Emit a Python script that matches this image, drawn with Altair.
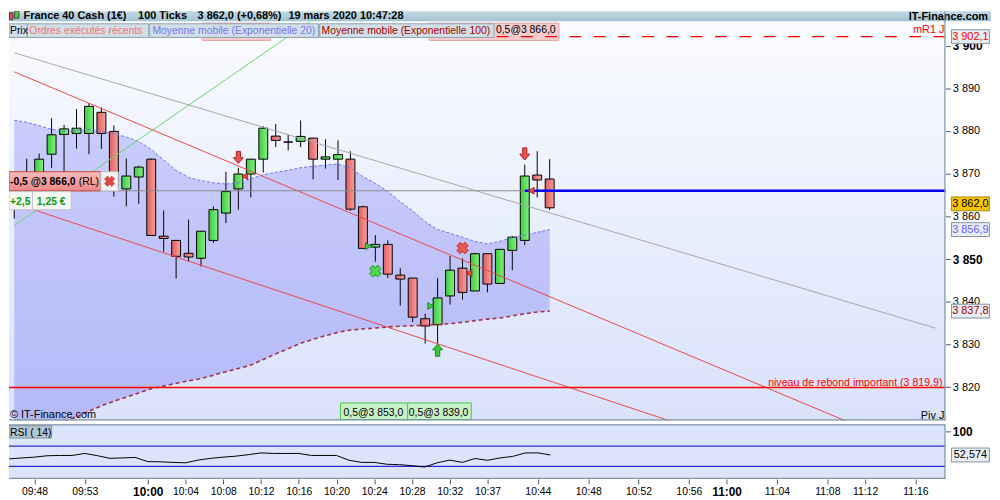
import json
import altair as alt
import pandas as pd

FONT = "Liberation Sans"

# ---------------- values ----------------
bar_index = list(range(44))
opens = [3862.5, 3866.0, 3869.5, 3874.56, 3879.20, 3879.43, 3879.43, 3884.38, 3879.90, 3866.43,
         3869.22, 3873.40, 3855.36, 3854.36, 3851.34, 3850.18, 3854.36, 3860.77, 3866.43, 3869.91,
         3873.40, 3878.80, 3877.41, 3877.57, 3878.34, 3873.40, 3873.40, 3873.40, 3862.25, 3852.80,
         3853.43, 3846.23, 3845.54, 3836.02, 3834.62, 3841.36, 3847.86, 3842.52, 3851.25, 3844.28,
         3852.04, 3854.36, 3869.68, 3868.75]
closes = [3866.5, 3868.8, 3873.4, 3879.11, 3880.50, 3880.66, 3885.77, 3879.43, 3866.73, 3869.45,
          3871.54, 3855.52, 3854.82, 3850.64, 3850.48, 3856.52, 3861.56, 3865.80, 3869.91, 3873.40,
          3880.66, 3877.80, 3877.41, 3878.73, 3873.40, 3873.93, 3874.46, 3861.69, 3852.50, 3853.43,
          3846.46, 3845.30, 3836.39, 3834.30, 3840.89, 3847.39, 3842.19, 3851.25, 3844.14, 3852.27,
          3855.12, 3869.45, 3868.52, 3862.0]
highs = [3869.3, 3873.5, 3874.7, 3882.98, 3881.43, 3885.14, 3886.54, 3885.54, 3881.29, 3873.54,
         3871.84, 3873.6, 3861.39, 3854.36, 3859.23, 3856.52, 3862.32, 3870.45, 3871.38, 3873.40,
         3881.12, 3881.66, 3879.11, 3882.45, 3878.34, 3878.04, 3877.81, 3875.25, 3862.48, 3855.59,
         3854.36, 3847.86, 3845.54, 3837.18, 3845.54, 3850.71, 3850.18, 3851.25, 3851.25, 3852.27,
         3855.36, 3872.14, 3875.25, 3873.40]
lows = [3859.5, 3864.0, 3867.5, 3871.38, 3866.96, 3875.86, 3874.56, 3875.79, 3864.64, 3862.32,
        3862.95, 3855.4, 3851.71, 3845.44, 3849.39, 3848.23, 3853.80, 3858.45, 3861.56, 3864.41,
        3870.28, 3876.25, 3875.48, 3876.25, 3868.66, 3871.21, 3868.52, 3861.32, 3852.4, 3849.39,
        3845.54, 3839.11, 3835.23, 3830.21, 3830.21, 3839.34, 3840.50, 3842.52, 3842.19, 3844.28,
        3847.40, 3853.27, 3864.41, 3861.46]
ema20 = [3882.52, 3882.03, 3881.24, 3880.38, 3879.92, 3880.15, 3880.31, 3879.97, 3879.34, 3878.60,
         3877.53, 3875.67, 3873.23, 3870.80, 3869.10, 3868.36, 3867.87, 3867.57, 3867.85, 3868.78,
         3869.75, 3870.31, 3870.80, 3871.40, 3871.72, 3872.05, 3872.24, 3871.31, 3869.33, 3867.75,
         3865.83, 3863.44, 3861.30, 3858.75, 3856.91, 3856.03, 3855.12, 3854.10, 3853.55, 3854.13,
         3855.08, 3855.57, 3856.26, 3856.90]
ema100 = [3806.37, 3807.77, 3809.16, 3810.55, 3811.95, 3812.99, 3814.34, 3815.61, 3816.68, 3817.66,
          3818.63, 3819.60, 3820.26, 3820.88, 3821.46, 3822.02, 3822.81, 3823.60, 3824.37, 3825.16,
          3826.48, 3827.78, 3829.01, 3830.24, 3831.21, 3832.05, 3832.84, 3833.37, 3833.61, 3833.84,
          3834.09, 3834.28, 3834.37, 3834.46, 3834.67, 3834.86, 3835.18, 3835.58, 3835.93, 3836.18,
          3836.69, 3837.18, 3837.58, 3837.80]
rsi_values = [44.9, 46.7, 48.3, 51.0, 51.6, 51.6, 55.6, 51.2, 45.9, 46.7,
              47.7, 39.4, 39.0, 37.8, 37.0, 42.4, 45.9, 48.3, 50.2, 53.2,
              56.7, 55.6, 55.6, 55.6, 51.6, 51.6, 51.6, 42.0, 37.8, 37.8,
              34.1, 33.3, 31.3, 28.6, 37.0, 42.4, 37.8, 45.5, 42.0, 46.7,
              49.7, 56.6, 56.7, 52.6]

time_tick_index = [2, 6, 11, 14, 17, 20, 23, 26, 29, 32, 35, 38, 42, 46, 50, 54, 57, 61, 65, 68, 72]
time_tick_label = ["09:48", "09:53", "10:00", "10:04", "10:08", "10:12", "10:16", "10:20", "10:24",
                   "10:28", "10:32", "10:37", "10:44", "10:48", "10:52", "10:56", "11:00", "11:04",
                   "11:08", "11:12", "11:16"]
time_tick_bold = ["10:00", "11:00"]
price_ticks = [3820, 3830, 3840, 3850, 3860, 3870, 3880, 3890, 3900]
rsi_ticks = [100]

order_level = 3866.0
rebound_level = 3819.9
mr1_level = 3902.1
rsi_bands = [70, 30]

trend_name = ["gris", "rouge_haut", "rouge_bas", "vert"]
trend_start_index = [0, 0, 0, 0]
trend_start_price = [3898.32, 3893.85, 3863.07, 3857.84]
trend_end_index = [74, 74, 74, 26]
trend_end_price = [3833.80, 3803.22, 3791.42, 3910.20]
trend_colors = ["#a8a8a8", "#ec4747", "#ec4747", "#68d468"]

sell_arrow_index = [18, 41]
sell_arrow_price = [3873.81, 3874.63]
buy_arrow_index = [34]
buy_arrow_price = [3828.66]
cancel_sell_index = [36]
cancel_sell_price = [3852.57]
cancel_buy_index = [29]
cancel_buy_price = [3847.16]
buy_fill_index = [29, 34]
buy_fill_price = [3853.0, 3839.0]
sell_fill_index = [18, 36, 41]
sell_fill_price = [3869.4, 3846.7, 3866.0]

axis_box_price = [3902.1, 3856.9, 3837.8]
axis_box_text = ["3 902,1", "3 856,9", "3 837,8"]
axis_box_color = ["#ff0000", "#6464ff", "#a00000"]
last_price = 3862.0
last_price_text = "3 862,0"
rsi_last = 52.574
rsi_last_text = "52,574"

title_parts = ["France 40 Cash (1€)", "100 Ticks", "3 862,0 (+0,68%)", "19 mars 2020 10:47:28"]
site_name = "IT-Finance.com"
legend_labels = ["Prix", "Ordres exécutés récents", "Moyenne mobile (Exponentielle 20)",
                 "Moyenne mobile (Exponentielle 100)"]
legend_colors = ["#000000", "#f07272", "#7474f6", "#a30000"]
top_order_text = "0,5@3 866,0"
rl_order_text = "-0,5 @3 866,0"
rl_tag = "(RL)"
pnl_texts = ["+2,5", "1,25 €"]
fill_texts = ["0,5@3 853,0", "0,5@3 839,0"]
rebound_text = "niveau de rebond important (3 819,9)"
mr1_text = "mR1 J"
piv_text = "Piv J"
copyright_text = "© IT-Finance.com"
rsi_title = "RSI ( 14)"

# ---------------- layout ----------------
W, H, HR = 945, 413, 55
xs = alt.Scale(domain=[-0.024, 74.386], nice=False, zero=False)
ys = alt.Scale(domain=[3812.18, 3908.06], nice=False, zero=False)
rs = alt.Scale(domain=[4.9, 113.3], nice=False, zero=False)
BORDER = "#7f95a3"
BOXBG = "#e6edf4"

price_bold = "datum.value % 50 == 0"
price_axis = alt.Axis(
    orient="right", values=price_ticks, title=None, grid=False, domain=False, zindex=0,
    tickSize=5, tickColor="#4d5d69", tickWidth=1, labelPadding=2,
    labelColor="#000000", labelFont=FONT,
    labelExpr="replace(format(datum.value, ','), ',', ' ')",
    labelFontSize={"condition": {"test": price_bold, "value": 12}, "value": 11},
    labelFontWeight={"condition": {"test": price_bold, "value": "bold"}, "value": "normal"},
    labelFlush=False, labelOverlap=False)

bold_idx = [time_tick_index[time_tick_label.index(b)] for b in time_tick_bold]
time_bold = f"indexof({json.dumps(bold_idx)}, datum.value) >= 0"
time_axis = alt.Axis(
    orient="bottom", values=time_tick_index, title=None, grid=False, domain=False, zindex=0,
    tickSize=5, tickColor="#4d5d69", tickWidth=1, labelPadding=3,
    labelColor="#000000", labelFont=FONT,
    labelExpr=f"{json.dumps(time_tick_label)}[indexof({json.dumps(time_tick_index)}, datum.value)]",
    labelFontSize={"condition": {"test": time_bold, "value": 12}, "value": 10.5},
    labelFontWeight={"condition": {"test": time_bold, "value": "bold"}, "value": "normal"},
    labelFlush=False, labelOverlap=False)

rsi_axis = alt.Axis(
    orient="right", values=rsi_ticks, title=None, grid=False, domain=False, zindex=0,
    tickSize=5, tickColor="#4d5d69", tickWidth=1, labelPadding=2, labelColor="#000000", labelFont=FONT,
    labelFontSize=12, labelFontWeight="bold", labelFlush=False, labelOverlap=False)


def X(f):
    # main panel: no x axis
    return alt.X(f, type="quantitative", scale=xs, axis=None)


def Y(f):
    # every price layer carries the same axis definition so they merge cleanly
    return alt.Y(f, type="quantitative", scale=ys, axis=price_axis)


def RX(f):
    return alt.X(f, type="quantitative", scale=xs, axis=time_axis)


def RY(f):
    return alt.Y(f, type="quantitative", scale=rs, axis=rsi_axis)


def PX(f):
    return alt.X(f, type="quantitative", scale=None, axis=None)


def PY(f):
    return alt.Y(f, type="quantitative", scale=None, axis=None)


def grad(c0, c1, horizontal=False):
    if horizontal:
        return alt.Gradient(gradient="linear", x1=0, x2=1, y1=0, y2=0,
                            stops=[alt.GradientStop(color=c0, offset=0), alt.GradientStop(color=c1, offset=1)])
    return alt.Gradient(gradient="linear", x1=0, x2=0, y1=0, y2=1,
                        stops=[alt.GradientStop(color=c0, offset=0), alt.GradientStop(color=c1, offset=1)])


def px_rects(df, clip=True, **kw):
    enc = dict(x=PX("x1"), x2="x2:Q", y=PY("y1"), y2="y2:Q")
    if "f" in df.columns:
        enc["fill"] = alt.Fill("f:N", scale=None)
    return alt.Chart(df).mark_rect(clip=clip, **kw).encode(**enc)


def px_text(df, clip=True, **kw):
    enc = dict(x=PX("x"), y=PY("y"), text="t:N")
    if "c" in df.columns:
        enc["color"] = alt.Color("c:N", scale=None)
    return alt.Chart(df).mark_text(clip=clip, font=FONT, **kw).encode(**enc)


one = pd.DataFrame({"k": [0]})

# ---------------- main price panel ----------------
bg = alt.Chart(one).mark_rect(fill=grad("#fbfcff", "#d9e2fb")).encode(
    x=alt.value(0), x2=alt.value(W), y=alt.value(0), y2=alt.value(H))

ema_df = pd.DataFrame({"i": bar_index, "e20": ema20, "e100": ema100})
ema_area = alt.Chart(ema_df).mark_area(clip=True, opacity=1, fill=grad("#c9cdfc", "#b3b7f7")).encode(
    x=X("i"), y=Y("e20"), y2="e100:Q")

top_boxes = px_rects(pd.DataFrame({"x1": [195, 424], "x2": [264, 555], "y1": [12, 12], "y2": [29.5, 29.5]}),
                     fill="#f6cbcb", stroke="#e6a6a6", strokeWidth=1)
top_box_text = px_text(pd.DataFrame({"x": [491.4], "y": [22], "t": [top_order_text]}),
                       fontSize=10.5, align="left", baseline="alphabetic", color="#000000")

cdf = pd.DataFrame({"i": bar_index, "o": opens, "h": highs, "l": lows, "c": closes})
up = cdf[cdf["c"] > cdf["o"]]
dn = cdf[cdf["c"] <= cdf["o"]]
wicks = alt.Chart(cdf).mark_rule(clip=True, color="#000000", strokeWidth=1).encode(
    x=X("i"), y=Y("l"), y2="h:Q")
body_up = alt.Chart(up).mark_bar(clip=True, size=9, fill=grad("#3ccd3c", "#86ee86", True),
                                 stroke="#000000", strokeWidth=1).encode(x=X("i"), y=Y("o"), y2="c:Q")
body_dn = alt.Chart(dn).mark_bar(clip=True, size=9, fill=grad("#e05e5e", "#f5a0a0", True),
                                 stroke="#000000", strokeWidth=1).encode(x=X("i"), y=Y("o"), y2="c:Q")

ema20_line = alt.Chart(ema_df).mark_line(clip=True, color="#7070ee", strokeWidth=1,
                                         strokeDash=[3, 2]).encode(x=X("i"), y=Y("e20"))
ema100_line = alt.Chart(ema_df).mark_line(clip=True, color="#a5304a", strokeWidth=1.6,
                                          strokeDash=[4, 3]).encode(x=X("i"), y=Y("e100"))

trend_df = pd.DataFrame({"name": trend_name * 2,
                         "i": trend_start_index + trend_end_index,
                         "p": trend_start_price + trend_end_price})
trends = alt.Chart(trend_df).mark_line(clip=True, strokeWidth=1).encode(
    x=X("i"), y=Y("p"),
    color=alt.Color("name:N", scale=alt.Scale(domain=trend_name, range=trend_colors), legend=None))

gray_level = alt.Chart(pd.DataFrame({"p": [order_level]})).mark_rule(color="#8c8c8c", strokeWidth=1).encode(
    y=Y("p"))
rebound_rule = alt.Chart(pd.DataFrame({"p": [rebound_level]})).mark_rule(color="#ff0000", strokeWidth=1.5).encode(
    y=Y("p"))
mr1_rule = alt.Chart(pd.DataFrame({"p": [mr1_level]})).mark_rule(
    color="#ff0000", strokeWidth=1.3, strokeDash=[12, 12.5]).encode(y=Y("p"))
blue_rule = alt.Chart(pd.DataFrame({"i": [41], "p": [order_level]})).mark_rule(
    color="#0000ff", strokeWidth=2.5).encode(x=X("i"), x2=alt.value(W), y=Y("p"))


def markers(idx, prc, **kw):
    base = dict(filled=True, opacity=1, strokeWidth=1, clip=True)
    base.update(kw)
    return alt.Chart(pd.DataFrame({"i": idx, "p": prc})).mark_point(**base).encode(x=X("i"), y=Y("p"))


down_path = "M-0.35,-1L0.35,-1L0.35,0.05L0.82,0.05L0,1L-0.82,0.05L-0.35,0.05Z"
up_path = "M-0.35,1L0.35,1L0.35,-0.05L0.82,-0.05L0,-1L-0.82,-0.05L-0.35,-0.05Z"
m_sell_arrow = markers(sell_arrow_index, sell_arrow_price, shape=down_path, size=150,
                       fill="#e85454", stroke="#b02424")
m_buy_arrow = markers(buy_arrow_index, buy_arrow_price, shape=up_path, size=150,
                      fill="#3fc83f", stroke="#138a13")
m_cancel_sell = markers(cancel_sell_index, cancel_sell_price, shape="cross", angle=45, size=130,
                        fill="#ea5a5a", stroke="#c83a3a")
m_cancel_buy = markers(cancel_buy_index, cancel_buy_price, shape="cross", angle=45, size=130,
                       fill="#55d655", stroke="#2ea82e")
m_buy_fill = markers(buy_fill_index, buy_fill_price, shape="triangle-right", size=45,
                     fill="#44cc44", stroke="#128a12", xOffset=-7)
m_sell_fill = markers(sell_fill_index, sell_fill_price, shape="triangle-left", size=45,
                      fill="#e64a4a", stroke="#b02020", xOffset=6.5)

legend_boxes = px_rects(pd.DataFrame({"x1": [0, 18.5, 142, 313.5], "x2": [18.5, 141, 312.3, 489.5],
                                      "y1": [12.7] * 4, "y2": [26.5] * 4}),
                        fill="#d3dfe7", stroke="#8ea2ae", strokeWidth=1)
legend_text = px_text(pd.DataFrame({"x": [1, 20.5, 144.7, 315.4], "y": [22.5] * 4,
                                    "t": legend_labels, "c": legend_colors}),
                      fontSize=10.5, align="left", baseline="alphabetic")

title_bar = alt.Chart(one).mark_rect(fill=grad("#c3dae5", "#a4c2d0")).encode(
    x=alt.value(0), x2=alt.value(991), y=alt.value(0), y2=alt.value(10))
icon = px_rects(pd.DataFrame({"x1": [0.5, 5.5], "x2": [4, 10], "y1": [1.5, 0], "y2": [8.5, 7],
                              "f": ["#e05050", "#44cc44"]}), stroke="#404040", strokeWidth=1)
title_text = px_text(pd.DataFrame({"x": [14.7, 130.3, 190.3, 282], "y": [7.5] * 4, "t": title_parts}),
                     fontSize=11, fontWeight="bold", align="left", baseline="alphabetic", color="#000000")
site_text = px_text(pd.DataFrame({"x": [988], "y": [0], "t": [site_name]}), clip=False,
                    fontSize=11, fontWeight="bold", align="right", baseline="top", color="#000000")

rl_box = px_rects(pd.DataFrame({"x1": [0], "x2": [92.7], "y1": [162], "y2": [181.3]}),
                  fill=grad("#f8bcbc", "#ee8888"), stroke="#d04040", strokeWidth=1)
x_box = px_rects(pd.DataFrame({"x1": [92.7], "x2": [110.3], "y1": [162], "y2": [181.3]}),
                 fill="#f3f3f3", stroke="#bdbdbd", strokeWidth=1)
x_glyph = alt.Chart(pd.DataFrame({"x": [101.5], "y": [171.6]})).mark_point(
    shape="cross", angle=45, size=110, filled=True, opacity=1, fill="#e04848", stroke="#c03030",
    strokeWidth=0.5).encode(x=PX("x"), y=PY("y"))
rl_text = px_text(pd.DataFrame({"x": [1], "y": [175.5], "t": [rl_order_text]}),
                  fontSize=10.5, fontWeight="bold", align="left", baseline="alphabetic", color="#000000")
rl_tag_text = px_text(pd.DataFrame({"x": [70.5], "y": [175.5], "t": [rl_tag]}),
                      fontSize=10.5, align="left", baseline="alphabetic", color="#000000")
pnl_boxes = px_rects(pd.DataFrame({"x1": [0, 23.7], "x2": [23.7, 62.7], "y1": [182, 182], "y2": [200.3, 200.3]}),
                     fill="#f4f7f4", stroke="#c4c4c4", strokeWidth=1)
pnl_text = px_text(pd.DataFrame({"x": [1, 28], "y": [195.5, 195.5], "t": pnl_texts}),
                   fontSize=10.5, fontWeight="bold", align="left", baseline="alphabetic", color="#0b9b0b")
fill_boxes = px_rects(pd.DataFrame({"x1": [334.5, 402.3], "x2": [402.3, 466.5], "y1": [395.3, 395.3],
                                    "y2": [412, 412]}),
                      fill="#c9f1c9", stroke="#4cc24c", strokeWidth=1)
fill_text = px_text(pd.DataFrame({"x": [337.6, 403.4], "y": [408, 408], "t": fill_texts}),
                    fontSize=10.5, align="left", baseline="alphabetic", color="#000000")

rebound_label = alt.Chart(pd.DataFrame({"p": [rebound_level], "t": [rebound_text]})).mark_text(
    font=FONT, fontSize=10.7, color="#ff0000", align="right", baseline="alphabetic", dy=-2).encode(
    x=alt.value(942), y=Y("p"), text="t:N")
mr1_label = alt.Chart(pd.DataFrame({"p": [mr1_level], "t": [mr1_text]})).mark_text(
    font=FONT, fontSize=11, color="#ff0000", align="right", baseline="alphabetic", dy=-4).encode(
    x=alt.value(944), y=Y("p"), text="t:N")
piv_label = px_text(pd.DataFrame({"x": [944], "y": [412], "t": [piv_text]}),
                    fontSize=11, align="right", baseline="alphabetic", color="#000000")
copy_label = px_text(pd.DataFrame({"x": [1], "y": [410.3], "t": [copyright_text]}),
                     fontSize=11, align="left", baseline="alphabetic", color="#000000")

borders = alt.Chart(pd.DataFrame({"x1": [W - 0.5, 0], "x2": [W - 0.5, W], "y1": [0, H - 0.6],
                                  "y2": [H, H - 0.6]})).mark_rule(color=BORDER, strokeWidth=1.2).encode(
    x=PX("x1"), x2="x2:Q", y=PY("y1"), y2="y2:Q")

box_path = "M-1,-0.3655L1,-0.3655L1,0.3655L-1,0.3655Z"
BOX_X = 970.2
axis_box_df = pd.DataFrame({"p": axis_box_price, "t": axis_box_text, "c": axis_box_color})
axis_boxes = alt.Chart(axis_box_df).mark_point(
    shape=box_path, size=1467, filled=True, opacity=1, fill=BOXBG, stroke=BORDER, strokeWidth=1).encode(
    x=alt.value(BOX_X), y=Y("p"))
axis_box_text_l = alt.Chart(axis_box_df).mark_text(font=FONT, fontSize=11, align="center",
                                                   baseline="middle").encode(
    x=alt.value(BOX_X), y=Y("p"), text="t:N", color=alt.Color("c:N", scale=None))
last_df = pd.DataFrame({"p": [last_price], "t": [last_price_text]})
last_box = alt.Chart(last_df).mark_point(
    shape=box_path, size=1467, filled=True, opacity=1, fill="#f6c500", stroke="#a88a10", strokeWidth=1,
    yOffset=-4).encode(x=alt.value(BOX_X), y=Y("p"))
last_text = alt.Chart(last_df).mark_text(font=FONT, fontSize=11, align="center", baseline="middle",
                                         color="#000000", yOffset=-4).encode(
    x=alt.value(BOX_X), y=Y("p"), text="t:N")

main = alt.layer(
    bg, ema_area, top_boxes, top_box_text, wicks, body_up, body_dn, ema20_line, ema100_line, trends,
    gray_level, rebound_rule, mr1_rule, blue_rule,
    m_sell_arrow, m_buy_arrow, m_cancel_sell, m_cancel_buy, m_buy_fill, m_sell_fill,
    legend_boxes, legend_text, title_bar, icon, title_text, site_text,
    rl_box, x_box, x_glyph, rl_text, rl_tag_text, pnl_boxes, pnl_text, fill_boxes, fill_text,
    rebound_label, mr1_label, piv_label, copy_label, borders,
    axis_boxes, axis_box_text_l, last_box, last_text,
).properties(width=W, height=H)

# ---------------- RSI panel ----------------
rsi_df = pd.DataFrame({"i": bar_index, "v": rsi_values})
rsi_bg = alt.Chart(one).mark_rect(fill="#dce5fc").encode(
    x=alt.value(0), x2=alt.value(W), y=alt.value(0), y2=alt.value(HR))
rsi_band_rules = alt.Chart(pd.DataFrame({"v": rsi_bands})).mark_rule(color="#2a2acc", strokeWidth=1.2).encode(
    y=RY("v"))
rsi_line = alt.Chart(rsi_df).mark_line(clip=True, color="#000000", strokeWidth=1).encode(
    x=RX("i"), y=RY("v"))
rsi_box = px_rects(pd.DataFrame({"x1": [0], "x2": [43], "y1": [1.3], "y2": [13.7]}),
                   fill="#b3c6d2", stroke=BORDER, strokeWidth=1)
rsi_box_text = px_text(pd.DataFrame({"x": [1], "y": [11.5], "t": [rsi_title]}),
                       fontSize=10.5, align="left", baseline="alphabetic", color="#000000")
rsi_last_df = pd.DataFrame({"v": [rsi_last], "t": [rsi_last_text]})
rsi_last_box = alt.Chart(rsi_last_df).mark_point(
    shape=box_path, size=1467, filled=True, opacity=1, fill=BOXBG, stroke=BORDER, strokeWidth=1).encode(
    x=alt.value(BOX_X), y=RY("v"))
rsi_last_txt = alt.Chart(rsi_last_df).mark_text(font=FONT, fontSize=11, align="center", baseline="middle",
                                                color="#000000").encode(
    x=alt.value(BOX_X), y=RY("v"), text="t:N")
rsi_borders = alt.Chart(pd.DataFrame({"x1": [0, 0, W - 0.5], "x2": [W, W, W - 0.5], "y1": [0.5, HR - 0.5, 0],
                                      "y2": [0.5, HR - 0.5, HR]})).mark_rule(color=BORDER, strokeWidth=1.2).encode(
    x=PX("x1"), x2="x2:Q", y=PY("y1"), y2="y2:Q")

rsi = alt.layer(
    rsi_bg, rsi_band_rules, rsi_line, rsi_box, rsi_box_text, rsi_borders, rsi_last_box, rsi_last_txt
).properties(width=W, height=HR)

chart = (
    alt.vconcat(main, rsi, spacing=2)
    .resolve_scale(x="independent", y="independent")
    .properties(padding=0)
    .configure(font=FONT, view=alt.ViewConfig(strokeWidth=0))
)

chart.save("out.html", embed_options={"renderer": "svg", "actions": False})
